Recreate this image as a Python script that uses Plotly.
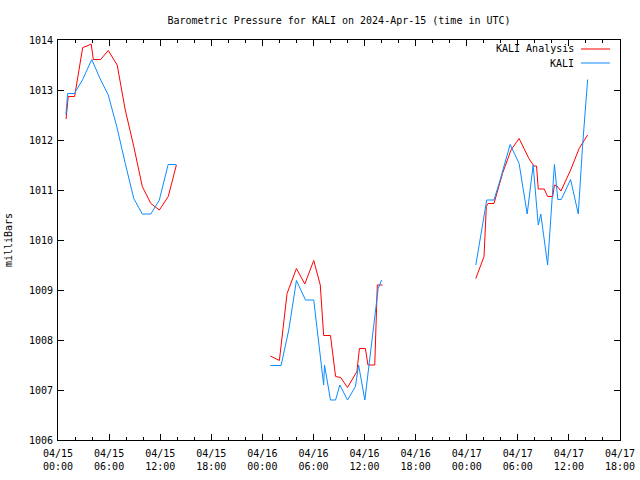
import plotly.graph_objects as go

TITLE = "Barometric Pressure for KALI on 2024-Apr-15 (time in UTC)"

# KALI Analysis (red)
ana_time = [
    "2024-04-15 00:57", "2024-04-15 01:12", "2024-04-15 01:57", "2024-04-15 02:54", "2024-04-15 03:24",
    "2024-04-15 03:54", "2024-04-15 04:09", "2024-04-15 05:00", "2024-04-15 05:54", "2024-04-15 06:57",
    "2024-04-15 07:54", "2024-04-15 08:54", "2024-04-15 09:54", "2024-04-15 10:54", "2024-04-15 11:54",
    "2024-04-15 12:57", "2024-04-15 13:54", None,
    "2024-04-16 00:56", "2024-04-16 02:00", "2024-04-16 02:54", "2024-04-16 04:00", "2024-04-16 04:59",
    "2024-04-16 06:02", "2024-04-16 06:48", "2024-04-16 07:12", "2024-04-16 08:00", "2024-04-16 08:36",
    "2024-04-16 09:12", "2024-04-16 10:00", "2024-04-16 11:06", "2024-04-16 11:24", "2024-04-16 12:06",
    "2024-04-16 12:24", "2024-04-16 13:12", "2024-04-16 13:30", "2024-04-16 14:06", None,
    "2024-04-17 01:04", "2024-04-17 02:02", "2024-04-17 02:18", "2024-04-17 02:30", "2024-04-17 03:12",
    "2024-04-17 04:12", "2024-04-17 05:12", "2024-04-17 06:09", "2024-04-17 07:18", "2024-04-17 07:54",
    "2024-04-17 08:12", "2024-04-17 08:24", "2024-04-17 09:06", "2024-04-17 09:30", "2024-04-17 10:06",
    "2024-04-17 10:18", "2024-04-17 10:36", "2024-04-17 11:04", "2024-04-17 12:12", "2024-04-17 13:12",
    "2024-04-17 14:12",
]
ana_mb = [
    1012.42, 1012.87, 1012.87, 1013.85, 1013.88,
    1013.92, 1013.61, 1013.61, 1013.79, 1013.50,
    1012.60, 1011.87, 1011.07, 1010.73, 1010.60,
    1010.87, 1011.50, None,
    1007.68, 1007.59, 1008.93, 1009.43, 1009.12,
    1009.59, 1009.10, 1008.09, 1008.09, 1007.27,
    1007.25, 1007.05, 1007.37, 1007.83, 1007.83,
    1007.50, 1007.50, 1009.10, 1009.10, None,
    1009.23, 1009.67, 1010.67, 1010.73, 1010.73,
    1011.33, 1011.80, 1012.03, 1011.63, 1011.48,
    1011.48, 1011.02, 1011.02, 1010.87, 1010.87,
    1011.10, 1011.08, 1010.98, 1011.40, 1011.83,
    1012.10,
]

# KALI observations (blue)
obs_time = [
    "2024-04-15 00:56", "2024-04-15 01:08", "2024-04-15 01:55", "2024-04-15 02:54", "2024-04-15 03:58",
    "2024-04-15 04:56", "2024-04-15 05:54", "2024-04-15 06:54", "2024-04-15 07:54", "2024-04-15 08:54",
    "2024-04-15 09:54", "2024-04-15 10:54", "2024-04-15 11:54", "2024-04-15 12:56", "2024-04-15 13:54", None,
    "2024-04-16 00:56", "2024-04-16 02:12", "2024-04-16 03:06", "2024-04-16 04:00", "2024-04-16 05:04",
    "2024-04-16 06:02", "2024-04-16 07:12", "2024-04-16 07:18", "2024-04-16 08:00", "2024-04-16 08:36",
    "2024-04-16 09:06", "2024-04-16 10:00", "2024-04-16 10:56", "2024-04-16 11:18", "2024-04-16 12:02",
    "2024-04-16 12:30", "2024-04-16 13:36", "2024-04-16 14:00", None,
    "2024-04-17 01:04", "2024-04-17 02:21", "2024-04-17 03:12", "2024-04-17 03:48", "2024-04-17 05:06",
    "2024-04-17 06:09", "2024-04-17 07:06", "2024-04-17 07:48", "2024-04-17 08:24", "2024-04-17 08:42",
    "2024-04-17 09:30", "2024-04-17 10:18", "2024-04-17 10:42", "2024-04-17 11:06", "2024-04-17 12:12",
    "2024-04-17 13:06", "2024-04-17 13:36", "2024-04-17 14:12",
]
obs_mb = [
    1012.51, 1012.93, 1012.93, 1013.21, 1013.61,
    1013.23, 1012.90, 1012.27, 1011.53, 1010.83,
    1010.52, 1010.52, 1010.80, 1011.51, 1011.51, None,
    1007.49, 1007.49, 1008.20, 1009.19, 1008.80,
    1008.80, 1007.10, 1007.50, 1006.80, 1006.80,
    1007.10, 1006.80, 1007.07, 1007.50, 1006.80,
    1007.47, 1009.03, 1009.20, None,
    1009.50, 1010.80, 1010.80, 1011.13, 1011.91,
    1011.53, 1010.52, 1011.50, 1010.30, 1010.52,
    1009.50, 1011.51, 1010.81, 1010.81, 1011.21,
    1010.52, 1011.87, 1013.21,
]

x_tickvals = [
    "2024-04-15 00:00", "2024-04-15 06:00", "2024-04-15 12:00", "2024-04-15 18:00",
    "2024-04-16 00:00", "2024-04-16 06:00", "2024-04-16 12:00", "2024-04-16 18:00",
    "2024-04-17 00:00", "2024-04-17 06:00", "2024-04-17 12:00", "2024-04-17 18:00",
]
x_ticktext = [
    "04/15<br>00:00", "04/15<br>06:00", "04/15<br>12:00", "04/15<br>18:00",
    "04/16<br>00:00", "04/16<br>06:00", "04/16<br>12:00", "04/16<br>18:00",
    "04/17<br>00:00", "04/17<br>06:00", "04/17<br>12:00", "04/17<br>18:00",
]
y_ticks = [1006, 1007, 1008, 1009, 1010, 1011, 1012, 1013, 1014]

RED = "#ff0000"
BLUE = "#0a8cff"
FONT = "DejaVu Sans Mono"
FS = 10

fig = go.Figure()
fig.add_trace(go.Scatter(x=ana_time, y=ana_mb, mode="lines", name="KALI Analysis",
                         line=dict(color=RED, width=1), connectgaps=False))
fig.add_trace(go.Scatter(x=obs_time, y=obs_mb, mode="lines", name="KALI",
                         line=dict(color=BLUE, width=1), connectgaps=False))

fig.update_layout(
    width=640, height=480,
    paper_bgcolor="white", plot_bgcolor="white",
    margin=dict(l=58, r=20, t=40, b=40, autoexpand=False),
    showlegend=False,
    font=dict(family=FONT, size=FS, color="black"),
    title=dict(text=TITLE, xref="paper", x=0.5, xanchor="center", yref="container", y=1 - 20 / 480,
               yanchor="middle", automargin=False,
               font=dict(family=FONT, size=FS, color="black")),
)
fig.update_xaxes(
    type="date", range=["2024-04-15 00:00", "2024-04-17 18:00"],
    tickvals=x_tickvals, ticktext=x_ticktext,
    ticks="inside", ticklen=6, tickcolor="black",
    showline=True, linecolor="black", linewidth=1, mirror="allticks",
    showgrid=False, zeroline=False, automargin=False,
    ticklabelstandoff=4,
    minor=dict(dtick=2 * 3600 * 1000, ticks="inside", ticklen=3, tickcolor="black", showgrid=False),
    tickfont=dict(family=FONT, size=FS),
)
fig.update_yaxes(
    range=[1006, 1014], tickvals=y_ticks,
    ticks="inside", ticklen=6, tickcolor="black",
    showline=True, linecolor="black", linewidth=1, mirror="allticks",
    showgrid=False, zeroline=False, automargin=False,
    ticklabelstandoff=2,
    title=dict(text="milliBars", font=dict(family=FONT, size=FS), standoff=14),
    tickfont=dict(family=FONT, size=FS),
)

# gnuplot-style legend: text on left, line sample on right
legend_items = [("KALI Analysis", RED), ("KALI", BLUE)]
for i, (label, col) in enumerate(legend_items):
    yy = 1 - (9 + i * 14) / 400
    fig.add_annotation(xref="paper", yref="paper", x=(576 - 58) / 562, y=yy, text=label,
                       showarrow=False, xanchor="right", yanchor="middle",
                       font=dict(family=FONT, size=FS, color="black"))
    fig.add_shape(type="line", xref="paper", yref="paper", x0=(581 - 58) / 562, x1=(610 - 58) / 562,
                  y0=yy, y1=yy, line=dict(color=col, width=1))

fig.write_html("out.html", config={"displayModeBar": False},
               post_script="document.body.style.margin='0px';")
